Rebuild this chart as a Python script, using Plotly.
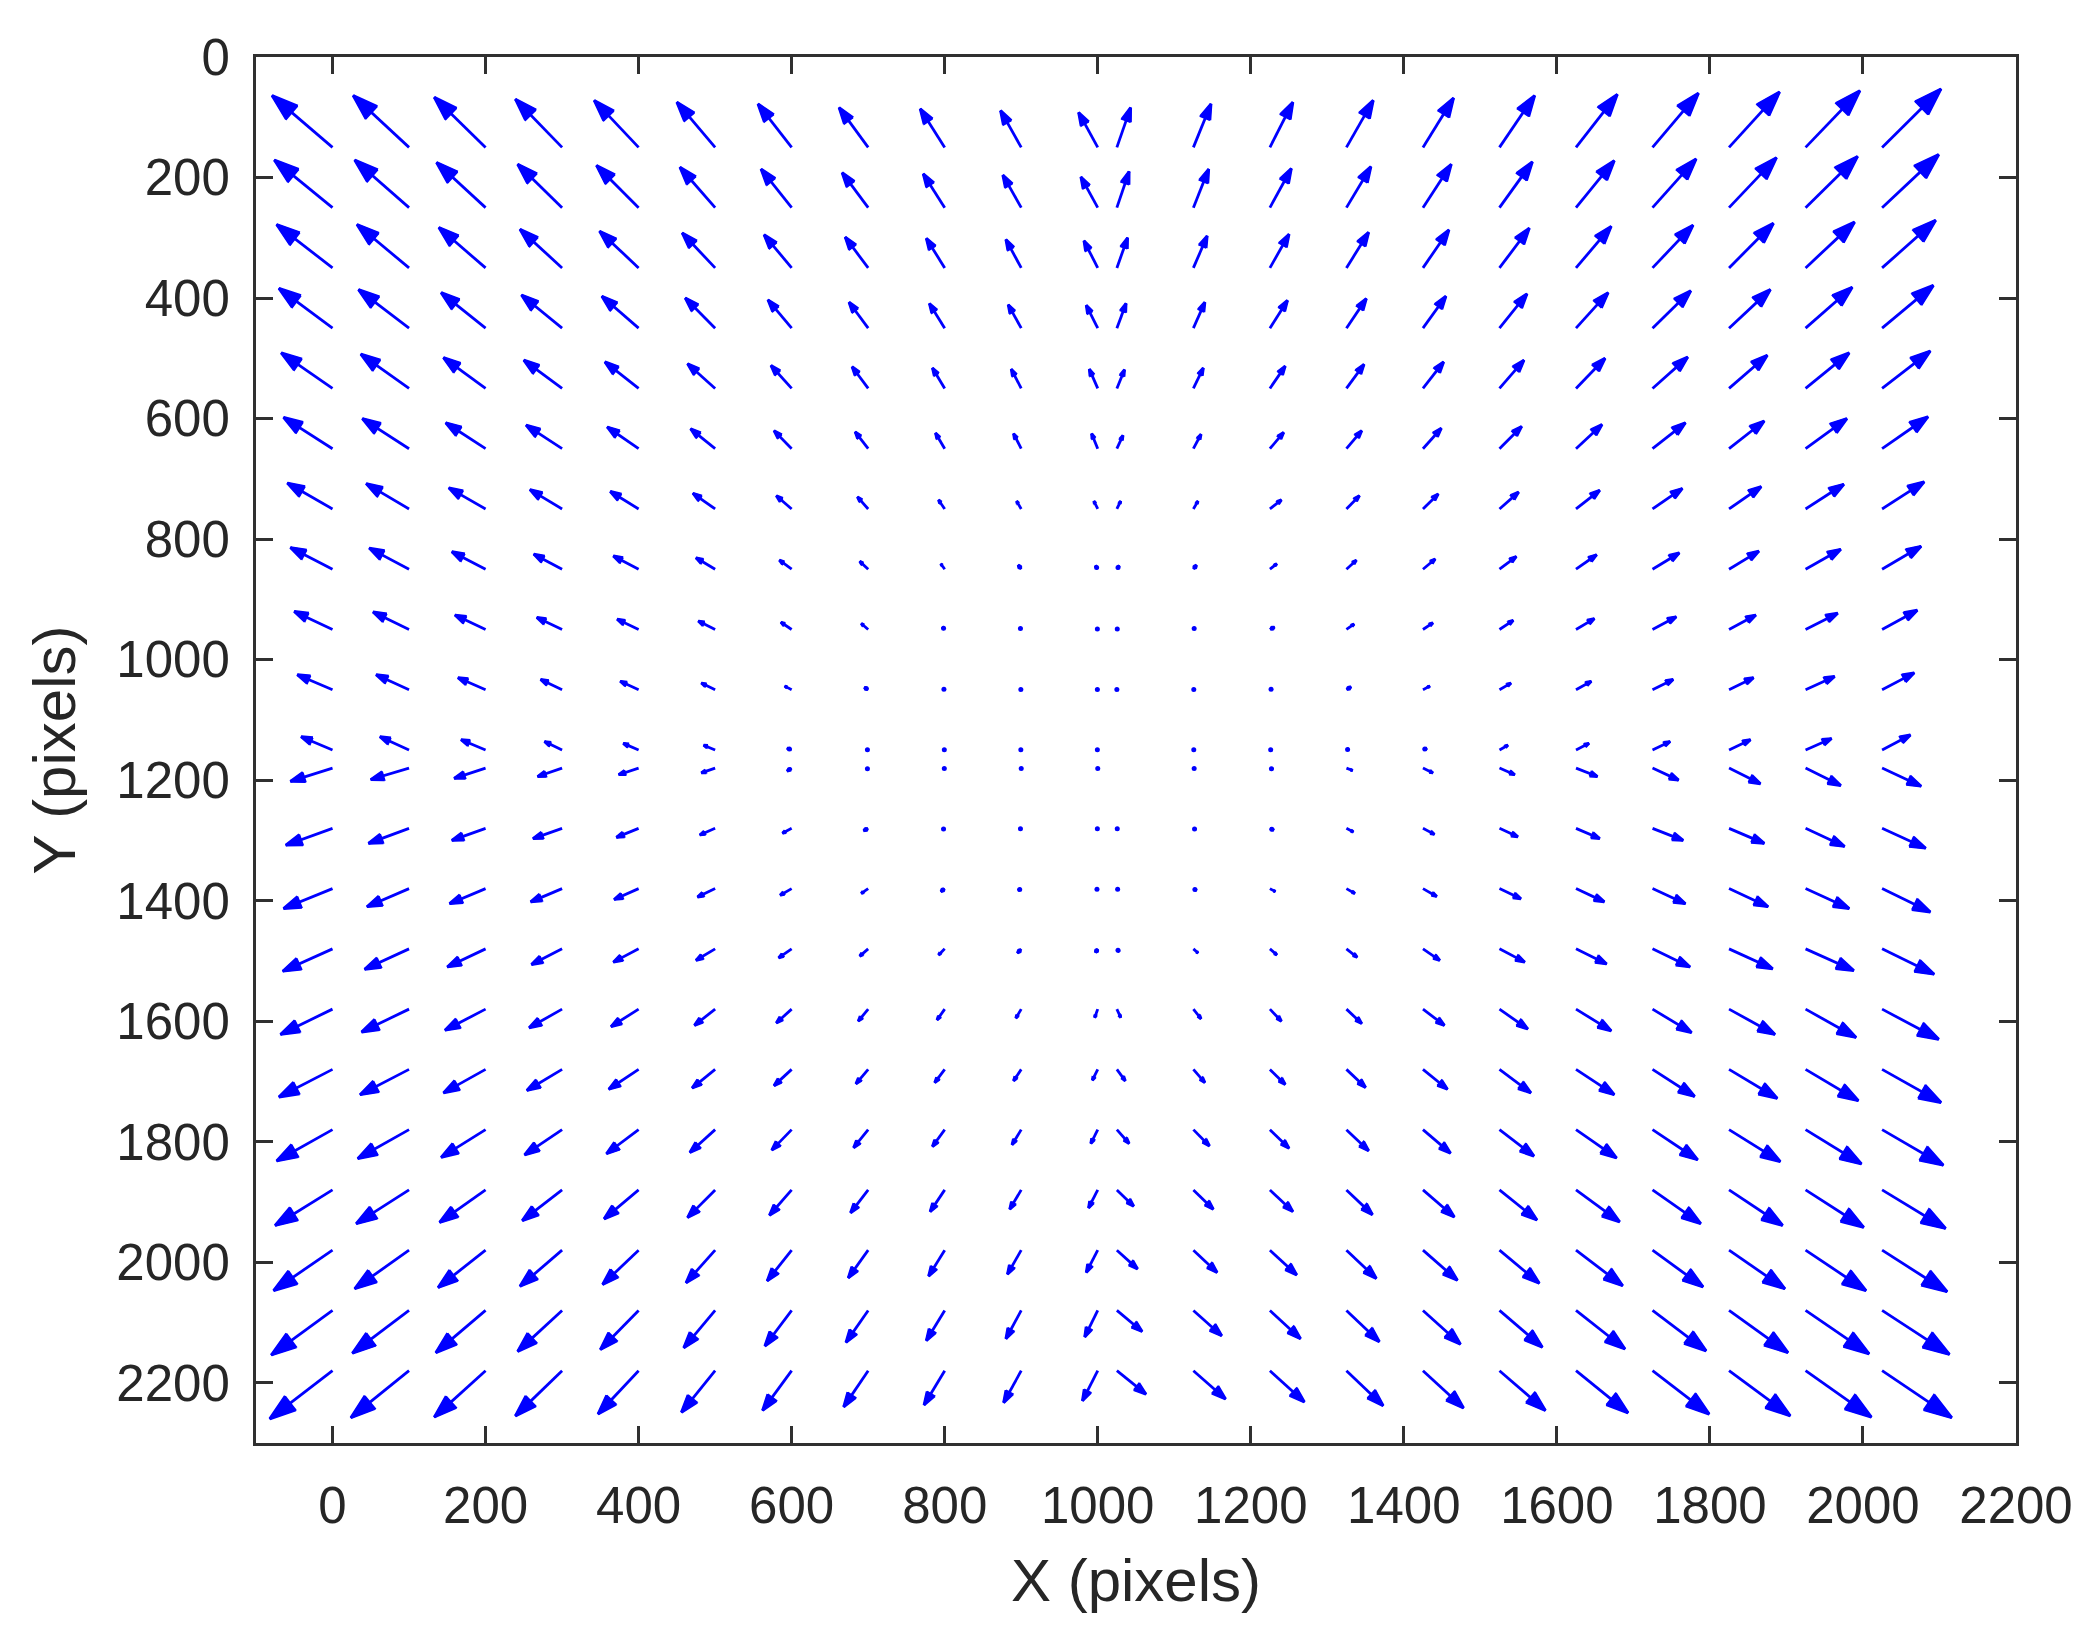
import math
import plotly.graph_objects as go

# ---------------- data ----------------
x_left = [0, 100, 200, 300, 400, 500, 600, 700, 800, 900, 1000]
x_right = [1025, 1125, 1225, 1325, 1425, 1525, 1625, 1725, 1825, 1925, 2025]
y_top = [150, 250, 350, 450, 550, 650, 750, 850, 950, 1050, 1150]
y_bottom = [1180, 1280, 1380, 1480, 1580, 1680, 1780, 1880, 1980, 2080, 2180]

x_ticks = [0, 200, 400, 600, 800, 1000, 1200, 1400, 1600, 1800, 2000, 2200]
y_ticks = [0, 200, 400, 600, 800, 1000, 1200, 1400, 1600, 1800, 2000, 2200]

# displacement components, quadrant by quadrant (rows top->bottom, cols left->right)
U_TL = [
    [-79, -73, -67, -61, -58, -50, -44, -38, -32, -27, -25],
    [-76, -71, -64, -58, -55, -46, -40, -34, -28, -24, -22],
    [-73, -68, -61, -55, -51, -43, -36, -30, -24, -20, -18],
    [-70, -66, -58, -53, -48, -39, -31, -25, -20, -17, -15],
    [-67, -63, -55, -50, -44, -36, -27, -21, -16, -13, -11],
    [-64, -61, -52, -47, -41, -32, -23, -17, -12, -10, -8],
    [-59, -56, -48, -42, -37, -29, -20, -14, -8, -6, -5],
    [-55, -52, -44, -37, -33, -25, -16, -11, -5, -4, -3],
    [-50, -47, -40, -33, -28, -22, -14, -9, -3, -2, -1],
    [-46, -43, -36, -28, -24, -18, -9, -5, -2, -1, -1],
    [-41, -38, -32, -23, -20, -15, -6, -2, -1, -1, -1],
]
V_TL = [
    [-86, -86, -83, -80, -78, -75, -72, -66, -64, -61, -58],
    [-79, -79, -75, -72, -70, -67, -64, -58, -56, -54, -51],
    [-72, -72, -67, -64, -61, -58, -55, -51, -49, -47, -45],
    [-66, -64, -59, -55, -53, -50, -47, -43, -41, -39, -38],
    [-59, -57, -51, -47, -44, -41, -38, -36, -34, -32, -32],
    [-52, -50, -43, -39, -36, -33, -30, -28, -26, -25, -25],
    [-43, -42, -35, -32, -29, -26, -22, -20, -15, -13, -13],
    [-36, -35, -29, -25, -22, -19, -15, -13, -9, -7, -6],
    [-30, -29, -24, -20, -17, -14, -12, -10, -4, -3, -2],
    [-25, -25, -20, -17, -14, -11, -6, -4, -2, -1, -1],
    [-22, -22, -17, -14, -11, -8, -3, -1, -1, -1, -1],
]
U_TR = [
    [18, 23, 30, 35, 40, 46, 54, 60, 66, 71, 77],
    [16, 20, 28, 32, 37, 43, 50, 57, 62, 68, 74],
    [14, 18, 25, 29, 34, 39, 46, 53, 58, 64, 70],
    [12, 15, 23, 26, 30, 36, 42, 50, 54, 61, 67],
    [10, 13, 20, 23, 27, 32, 38, 46, 50, 57, 63],
    [8, 10, 18, 20, 24, 29, 34, 43, 46, 54, 60],
    [5, 6, 15, 17, 20, 25, 31, 39, 42, 50, 55],
    [3, 4, 9, 13, 16, 22, 27, 35, 39, 46, 51],
    [1, 2, 6, 10, 13, 18, 24, 31, 35, 42, 46],
    [0, 1, 3, 6, 9, 15, 20, 27, 32, 38, 42],
    [0, 1, 2, 3, 5, 11, 17, 23, 28, 34, 37],
]
V_TR = [
    [-66, -72, -75, -78, -82, -86, -88, -90, -92, -94, -97],
    [-60, -64, -65, -68, -72, -76, -78, -81, -83, -85, -88],
    [-50, -53, -56, -59, -63, -66, -69, -71, -74, -76, -79],
    [-41, -43, -46, -49, -53, -57, -59, -62, -64, -68, -71],
    [-31, -34, -37, -40, -44, -47, -50, -52, -55, -59, -62],
    [-22, -24, -27, -30, -34, -37, -40, -43, -46, -50, -53],
    [-13, -13, -15, -22, -25, -28, -31, -34, -37, -41, -45],
    [-6, -7, -9, -15, -17, -21, -24, -27, -30, -33, -38],
    [-2, -3, -4, -9, -11, -15, -18, -21, -24, -27, -32],
    [-1, -1, -2, -5, -6, -11, -14, -17, -20, -22, -28],
    [0, -1, -1, -2, -3, -8, -11, -14, -17, -19, -25],
]
U_BL = [
    [-55, -50, -41, -32, -26, -18, -6, -2, -1, 0, 0],
    [-61, -53, -44, -38, -29, -20, -12, -6, -3, -2, -1],
    [-64, -55, -47, -41, -32, -23, -15, -9, -5, -4, -2],
    [-65, -58, -50, -40, -33, -25, -17, -11, -8, -5, -3],
    [-68, -62, -53, -43, -36, -27, -20, -13, -10, -7, -4],
    [-70, -64, -55, -46, -39, -30, -23, -16, -13, -10, -7],
    [-73, -67, -58, -49, -42, -33, -26, -19, -16, -12, -9],
    [-75, -69, -60, -52, -45, -36, -29, -23, -19, -15, -12],
    [-77, -71, -62, -55, -47, -38, -32, -26, -21, -18, -15],
    [-80, -74, -65, -58, -50, -41, -35, -29, -24, -20, -17],
    [-82, -76, -67, -61, -53, -44, -38, -32, -27, -23, -20],
]
V_BL = [
    [22, 19, 17, 14, 11, 8, 5, 2, 1, 1, 1],
    [28, 25, 20, 17, 15, 11, 8, 4, 2, 1, 1],
    [33, 30, 25, 22, 18, 14, 11, 8, 5, 3, 2],
    [37, 34, 30, 26, 22, 19, 15, 12, 10, 7, 6],
    [42, 38, 35, 31, 29, 27, 23, 20, 18, 15, 14],
    [46, 42, 39, 35, 33, 31, 27, 24, 22, 19, 18],
    [52, 48, 46, 42, 40, 38, 34, 30, 28, 25, 23],
    [59, 56, 54, 51, 48, 46, 42, 38, 36, 32, 30],
    [67, 64, 62, 60, 57, 54, 51, 46, 43, 40, 37],
    [74, 71, 70, 68, 65, 62, 59, 53, 50, 47, 44],
    [80, 78, 77, 75, 72, 69, 66, 60, 57, 53, 50],
]
U_BR = [
    [0, 2, 4, 8, 13, 20, 28, 34, 41, 46, 51],
    [1, 3, 5, 9, 15, 24, 31, 40, 46, 51, 57],
    [2, 4, 7, 11, 18, 28, 37, 43, 51, 57, 63],
    [3, 6, 9, 14, 22, 33, 40, 49, 57, 63, 68],
    [5, 10, 15, 20, 28, 37, 46, 51, 60, 66, 74],
    [11, 15, 20, 25, 32, 41, 50, 55, 63, 69, 77],
    [16, 21, 25, 29, 36, 45, 53, 59, 67, 73, 80],
    [22, 26, 30, 34, 41, 49, 57, 63, 70, 76, 83],
    [27, 31, 35, 39, 45, 52, 61, 66, 73, 79, 85],
    [33, 37, 40, 43, 49, 56, 64, 70, 77, 83, 88],
    [38, 42, 45, 48, 53, 60, 68, 74, 80, 86, 91],
]
V_BR = [
    [0, 1, 2, 4, 8, 11, 14, 20, 26, 29, 30],
    [1, 2, 3, 6, 10, 14, 17, 20, 25, 30, 33],
    [2, 3, 5, 8, 13, 17, 22, 25, 30, 33, 39],
    [5, 7, 10, 14, 19, 22, 25, 30, 33, 36, 42],
    [14, 16, 20, 24, 27, 33, 36, 39, 42, 47, 50],
    [19, 22, 25, 30, 33, 39, 42, 45, 48, 52, 55],
    [23, 27, 31, 35, 39, 44, 47, 50, 53, 57, 59],
    [27, 32, 36, 41, 45, 50, 53, 56, 59, 62, 64],
    [31, 37, 41, 47, 50, 55, 59, 61, 64, 67, 69],
    [35, 42, 47, 52, 56, 61, 64, 67, 70, 72, 73],
    [39, 47, 52, 58, 62, 66, 70, 72, 75, 77, 78],
]

# ---------------- figure geometry ----------------
W, H = 2084, 1637
ML, MR, MT, MB = 256, 68, 57, 194
X_RANGE = [-100, 2200]
Y_RANGE = [2300, 0]
PW, PH = W - ML - MR, H - MT - MB
SX = PW / (X_RANGE[1] - X_RANGE[0])      # px per x unit
SY = PH / (Y_RANGE[0] - Y_RANGE[1])      # px per y unit (screen y grows with data y)

ARROW = "#0000FF"
ALPHA, BETA = 0.33, 0.33                  # quiver-style head proportions

# assemble the grid of arrows
xs = x_left + x_right
rows = []
for i, y in enumerate(y_top):
    rows.append((y, U_TL[i] + U_TR[i], V_TL[i] + V_TR[i]))
for i, y in enumerate(y_bottom):
    rows.append((y, U_BL[i] + U_BR[i], V_BL[i] + V_BR[i]))

lx, ly = [], []
hx, hy = [], []
dx_, dy_ = [], []
for y0, urow, vrow in rows:
    for x0, u, v in zip(xs, urow, vrow):
        px, py = u * SX, v * SY
        L = math.hypot(px, py)
        if L == 0:
            continue
        tx, ty = x0 + u, y0 + v
        ex, ey = px / L, py / L
        hl = ALPHA * L
        hw = BETA * hl
        bx, by = -hl * ex, -hl * ey
        lpx, lpy = bx - hw * ey, by + hw * ex
        rpx, rpy = bx + hw * ey, by - hw * ex
        lxd, lyd = tx + lpx / SX, ty + lpy / SY
        rxd, ryd = tx + rpx / SX, ty + rpy / SY
        lx += [x0, tx, None, lxd, tx, rxd, None]
        ly += [y0, ty, None, lyd, ty, ryd, None]
        hx += [lxd, tx, rxd, lxd, None]
        hy += [lyd, ty, ryd, lyd, None]
        if L < 6:
            dx_.append(x0 + u / 2)
            dy_.append(y0 + v / 2)

fig = go.Figure()
fig.add_trace(go.Scatter(x=hx, y=hy, mode="lines", fill="toself", fillcolor=ARROW,
                         line=dict(color=ARROW, width=1.5), hoverinfo="skip"))
fig.add_trace(go.Scatter(x=lx, y=ly, mode="lines", line=dict(color=ARROW, width=2.8),
                         hoverinfo="skip"))
fig.add_trace(go.Scatter(x=dx_, y=dy_, mode="markers",
                         marker=dict(color=ARROW, size=5, line=dict(width=0)),
                         hoverinfo="skip"))

FONT = "Liberation Sans, Arial, sans-serif"
AX = "#303030"
common = dict(ticks="inside", ticklen=17, tickwidth=2.5, tickcolor=AX,
              showline=True, linewidth=3, linecolor=AX, mirror="allticks",
              showgrid=False, zeroline=False,
              tickfont=dict(family=FONT, size=51, color="#262626"))
fig.update_xaxes(range=X_RANGE, tickmode="array", tickvals=x_ticks,
                 ticktext=[str(t) for t in x_ticks], ticklabelstandoff=16,
                 title=dict(text="X (pixels)", font=dict(family=FONT, size=60, color="#262626"),
                            standoff=26),
                 **common)
fig.update_yaxes(range=Y_RANGE, tickmode="array", tickvals=y_ticks,
                 ticktext=[str(t) for t in y_ticks], ticklabelstandoff=13,
                 title=dict(text="Y (pixels)", font=dict(family=FONT, size=60, color="#262626"),
                            standoff=22),
                 **common)
fig.update_layout(width=W, height=H, autosize=False,
                  margin=dict(l=ML, r=MR, t=MT, b=MB, autoexpand=False),
                  plot_bgcolor="white", paper_bgcolor="white", showlegend=False)

fig.write_html("out.html", config={"displayModeBar": False},
               post_script="document.body.style.margin='0';")
